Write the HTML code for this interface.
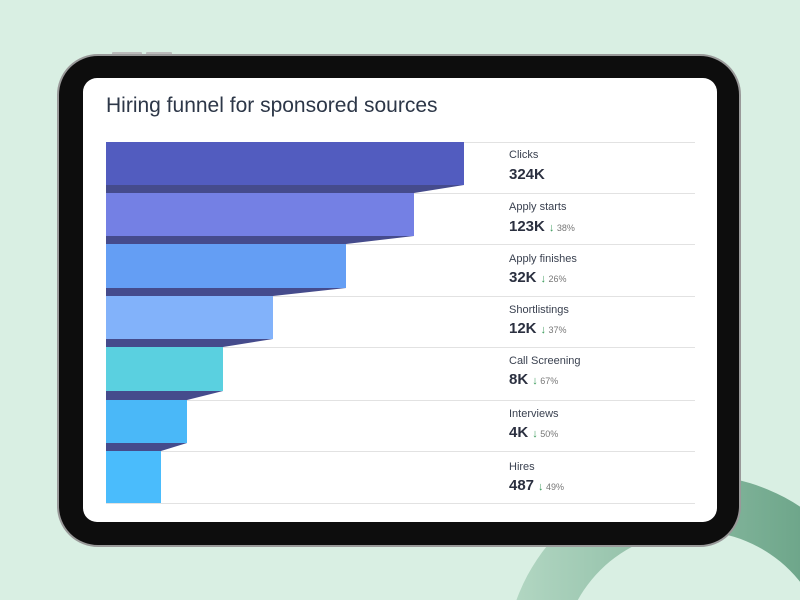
<!DOCTYPE html><html style="overflow:hidden"><head><style>
html,body{margin:0;width:800px;height:600px;overflow:hidden}
body{background:#d9efe3;font-family:"Liberation Sans",sans-serif;position:relative}
.abs{position:absolute}
.lab{position:absolute;left:509px;font-size:11px;color:#3a4150}
.val{position:absolute;left:509px;font-size:15px;font-weight:bold;color:#2b3040}
.pct{font-size:9px;font-weight:normal;color:#777;margin-left:4px}
.pct b{color:#3a9a5a;font-size:11px;font-weight:normal}
</style></head><body>
<svg class="abs" style="left:0;top:0;display:block" width="800" height="600">
<defs><linearGradient id="g" x1="0" x2="1"><stop offset="0" stop-color="#b4d8c4"/><stop offset="1" stop-color="#5a987a"/></linearGradient></defs>
<path d="M505 665 A190 190 0 0 1 885 665 L829 665 A134 134 0 0 0 561 665 Z" fill="url(#g)"/>
<rect x="112" y="52" width="30" height="4" rx="1" fill="#bbb"/><rect x="146" y="52" width="26" height="4" rx="1" fill="#bbb"/>
<rect x="58" y="55" width="682" height="491" rx="40" fill="#0d0d0d" stroke="#999" stroke-width="2"/>
<rect x="83" y="78" width="634" height="444" rx="14" fill="#fff"/>
<g stroke="#e2e2e2" stroke-width="1">
<line x1="106" x2="695" y1="142.5" y2="142.5"/><line x1="106" x2="695" y1="193.5" y2="193.5"/><line x1="106" x2="695" y1="244.5" y2="244.5"/><line x1="106" x2="695" y1="296.5" y2="296.5"/><line x1="106" x2="695" y1="347.5" y2="347.5"/><line x1="106" x2="695" y1="400.5" y2="400.5"/><line x1="106" x2="695" y1="451.5" y2="451.5"/><line x1="106" x2="695" y1="503.5" y2="503.5"/></g>
<g fill="#454b8c">
<polygon points="106,185 464,185 414,193 106,193"/><polygon points="106,236 414,236 346,244 106,244"/><polygon points="106,288 346,288 273,296 106,296"/><polygon points="106,339 273,339 223,347 106,347"/><polygon points="106,391 223,391 187,400 106,400"/><polygon points="106,443 187,443 161,451 106,451"/></g>
<rect x="106" y="142" width="358" height="43" fill="#525cbf"/>
<rect x="106" y="193" width="308" height="43" fill="#7480e4"/>
<rect x="106" y="244" width="240" height="44" fill="#649ef4"/>
<rect x="106" y="296" width="167" height="43" fill="#82b2fa"/>
<rect x="106" y="347" width="117" height="44" fill="#5ad0e0"/>
<rect x="106" y="400" width="81" height="43" fill="#4ab8f8"/>
<rect x="106" y="451" width="55" height="52" fill="#4abcfc"/>
</svg>
<div class="abs" style="left:106px;top:94px;font-size:21px;color:#2d3748">Hiring funnel for sponsored sources</div>
<div class="lab" style="top:149px">Clicks</div><div class="val" style="top:166px">324K</div>
<div class="lab" style="top:201px">Apply starts</div><div class="val" style="top:218px">123K<span class="pct"><b>↓</b> 38%</span></div>
<div class="lab" style="top:253px">Apply finishes</div><div class="val" style="top:269px">32K<span class="pct"><b>↓</b> 26%</span></div>
<div class="lab" style="top:304px">Shortlistings</div><div class="val" style="top:320px">12K<span class="pct"><b>↓</b> 37%</span></div>
<div class="lab" style="top:355px">Call Screening</div><div class="val" style="top:371px">8K<span class="pct"><b>↓</b> 67%</span></div>
<div class="lab" style="top:408px">Interviews</div><div class="val" style="top:424px">4K<span class="pct"><b>↓</b> 50%</span></div>
<div class="lab" style="top:461px">Hires</div><div class="val" style="top:477px">487<span class="pct"><b>↓</b> 49%</span></div>
</body></html>
